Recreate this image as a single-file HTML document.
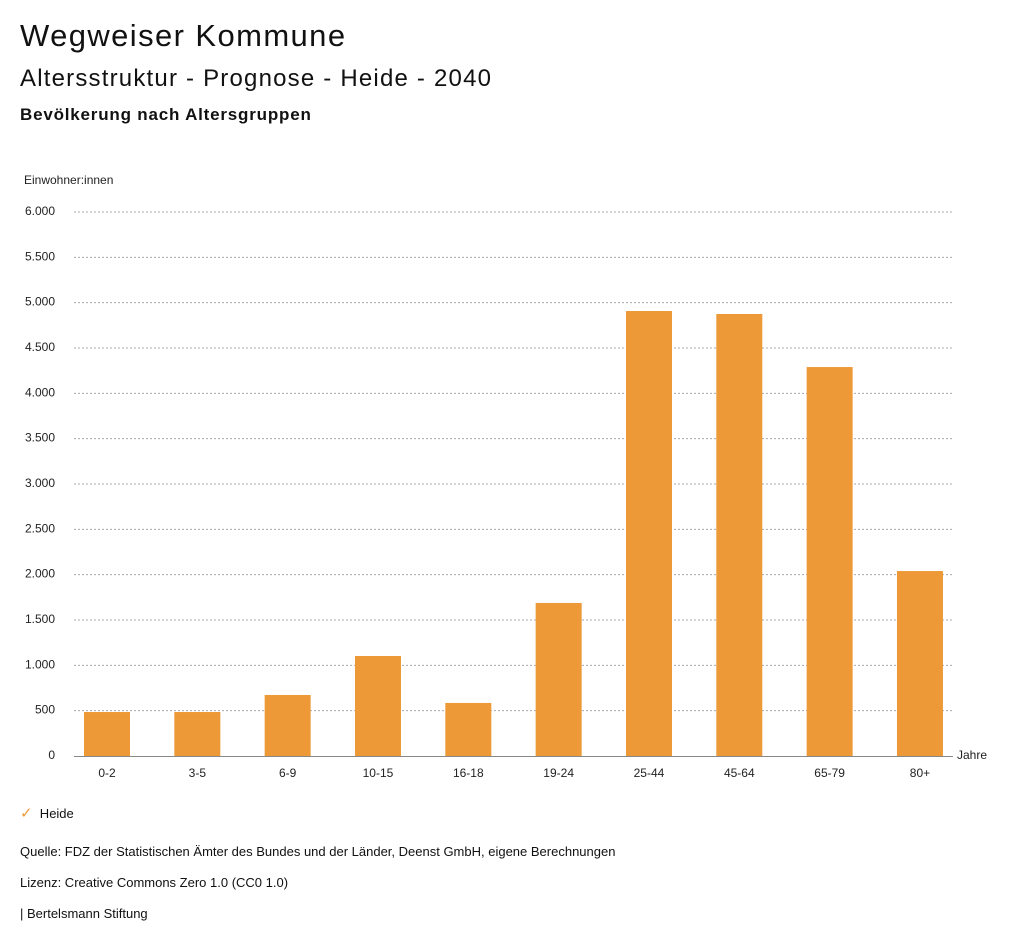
<!DOCTYPE html>
<html><head><meta charset="utf-8"><style>
body{margin:0;width:1024px;height:946px;background:#fff;font-family:"Liberation Sans",sans-serif;color:#111;position:relative;overflow:hidden}
.t{position:absolute;white-space:nowrap}
</style></head><body>
<div class="t" style="left:20px;top:18px;font-size:31px;letter-spacing:1.4px">Wegweiser Kommune</div>
<div class="t" style="left:20px;top:65px;font-size:24px;letter-spacing:1.2px">Altersstruktur - Prognose - Heide - 2040</div>
<div class="t" style="left:20px;top:105px;font-size:17px;font-weight:bold;letter-spacing:0.8px">Bevölkerung nach Altersgruppen</div>
<svg id="chart" width="1024" height="800" style="position:absolute;left:0;top:0"></svg>
<div class="t" style="left:20px;top:804px;font-size:13px"><span style="color:#ed9937;font-size:15px">✓</span>&nbsp;&nbsp;Heide</div>
<div class="t" style="left:20px;top:844px;font-size:13px">Quelle: FDZ der Statistischen Ämter des Bundes und der Länder, Deenst GmbH, eigene Berechnungen</div>
<div class="t" style="left:20px;top:875px;font-size:13px">Lizenz: Creative Commons Zero 1.0 (CC0 1.0)</div>
<div class="t" style="left:20px;top:906px;font-size:13px">| Bertelsmann Stiftung</div>
<script>
const categories=["0-2","3-5","6-9","10-15","16-18","19-24","25-44","45-64","65-79","80+"];
const values=[485,485,673,1103,585,1688,4908,4875,4290,2040];
const ticks=[0,500,1000,1500,2000,2500,3000,3500,4000,4500,5000,5500,6000];
const tickLabels=["0","500","1.000","1.500","2.000","2.500","3.000","3.500","4.000","4.500","5.000","5.500","6.000"];
const svg=document.getElementById('chart');const NS='http://www.w3.org/2000/svg';
const y=v=>756-v*(544/6000);
const x=i=>107+i*90.33;
function mk(t,a){const e=document.createElementNS(NS,t);for(const k in a)e.setAttribute(k,a[k]);svg.appendChild(e);return e;}
ticks.forEach((t,i)=>{
 if(t>0){const l=mk('line',{x1:74,x2:953,y1:y(t),y2:y(t),stroke:'#aaa','stroke-dasharray':'2,2'});
 
 }
 const tx=mk('text',{x:55,y:y(t)+3,'text-anchor':'end','font-size':12,fill:'#222'});tx.textContent=tickLabels[i];
 
 
});
const base=mk('line',{x1:74,x2:953,y1:756.5,y2:756.5,stroke:'#888'});


categories.forEach((c,i)=>{
 const r=mk('rect',{x:x(i)-23,y:y(values[i]),width:46,height:756-y(values[i]),fill:'#ed9937'});
 
 
 const tx=mk('text',{x:x(i),y:777,'text-anchor':'middle','font-size':12,fill:'#222'});tx.textContent=c;
 
 
});
const yt=mk('text',{x:24,y:184,'font-size':12,fill:'#222'});yt.textContent='Einwohner:innen';


const xt=mk('text',{x:957,y:759,'font-size':12,fill:'#222'});xt.textContent='Jahre';


</script>
</body></html>
